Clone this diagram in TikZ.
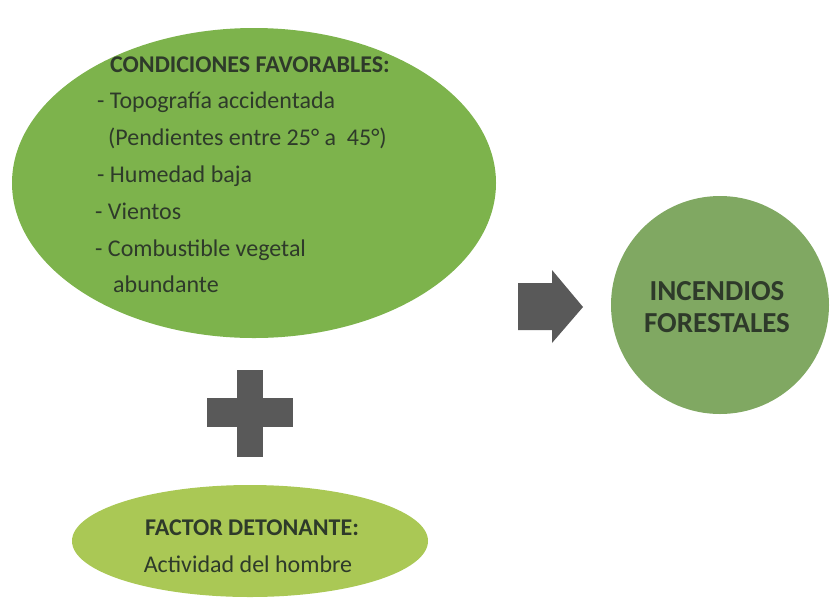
\documentclass[tikz,border=0pt]{standalone}
\usepackage{fontspec}
\setmainfont{Carlito}
\usepackage{xcolor}
\usetikzlibrary{shapes.geometric,positioning}

\definecolor{condgreen}{HTML}{7DB34C}
\definecolor{firegreen}{HTML}{80A862}
\definecolor{detgreen}{HTML}{AAC855}
\definecolor{txtdark}{HTML}{2E3A2A}
\definecolor{symgray}{HTML}{595959}

\tikzset{
  blob/.style={ellipse, inner sep=0pt, draw=none},
  line/.style={anchor=base west, inner sep=0pt, text=txtdark,
    font=\fontsize{24}{29}\selectfont},
  mid/.style={anchor=base, inner sep=0pt, text=txtdark,
    font=\fontsize{24}{29}\selectfont}
}

\begin{document}
\begin{tikzpicture}[x=1pt,y=-1pt]
  \useasboundingbox (0,0) rectangle (832,598);
  % Shapes
  \node[blob, fill=condgreen, minimum width=484pt, minimum height=310pt] (cond) at (254,183) {};
  \node[blob, fill=firegreen, minimum size=218pt] (fire) at (720,305) {};
  \node[blob, fill=detgreen, minimum width=356pt, minimum height=112pt] (det) at (250,541) {};
  % Arrow and plus sign
  \fill[symgray] (518,283) -- (552,283) -- (552,270) -- (583,307) -- (552,343)
    -- (552,330) -- (518,330) -- cycle;
  \fill[symgray] (237,370) rectangle (263,457);
  \fill[symgray] (207,398) rectangle (293,427);
  % Text of the big ellipse
  \node[line, font=\fontsize{24}{29}\selectfont\bfseries] (cond0) at (110,72)  {CONDICIONES FAVORABLES:};
  \node[line] (cond1) at (97,108.7) {- Topografía accidentada};
  \node[line] (cond2) at (108,145.4) {(Pendientes entre 25° a\ \ 45°)};
  \node[line] (cond3) at (97,182)   {- Humedad baja};
  \node[line] (cond4) at (95,219)   {- Vientos};
  \node[line] (cond5) at (95,256)   {- Combustible vegetal};
  \node[line] (cond6) at (113,292)  {abundante};
  % Text of the circle
  \node[mid, font=\fontsize{29}{33}\selectfont\bfseries] (fire1) at (717,300) {INCENDIOS};
  \node[mid, font=\fontsize{29}{33}\selectfont\bfseries] (fire2) at (717,332) {FORESTALES};
  % Text of the lower ellipse
  \node[mid, font=\fontsize{24}{29}\selectfont\bfseries] (det1) at (252,535) {FACTOR DETONANTE:};
  \node[mid] (det2) at (248,572) {Actividad del hombre};
\end{tikzpicture}
\end{document}
